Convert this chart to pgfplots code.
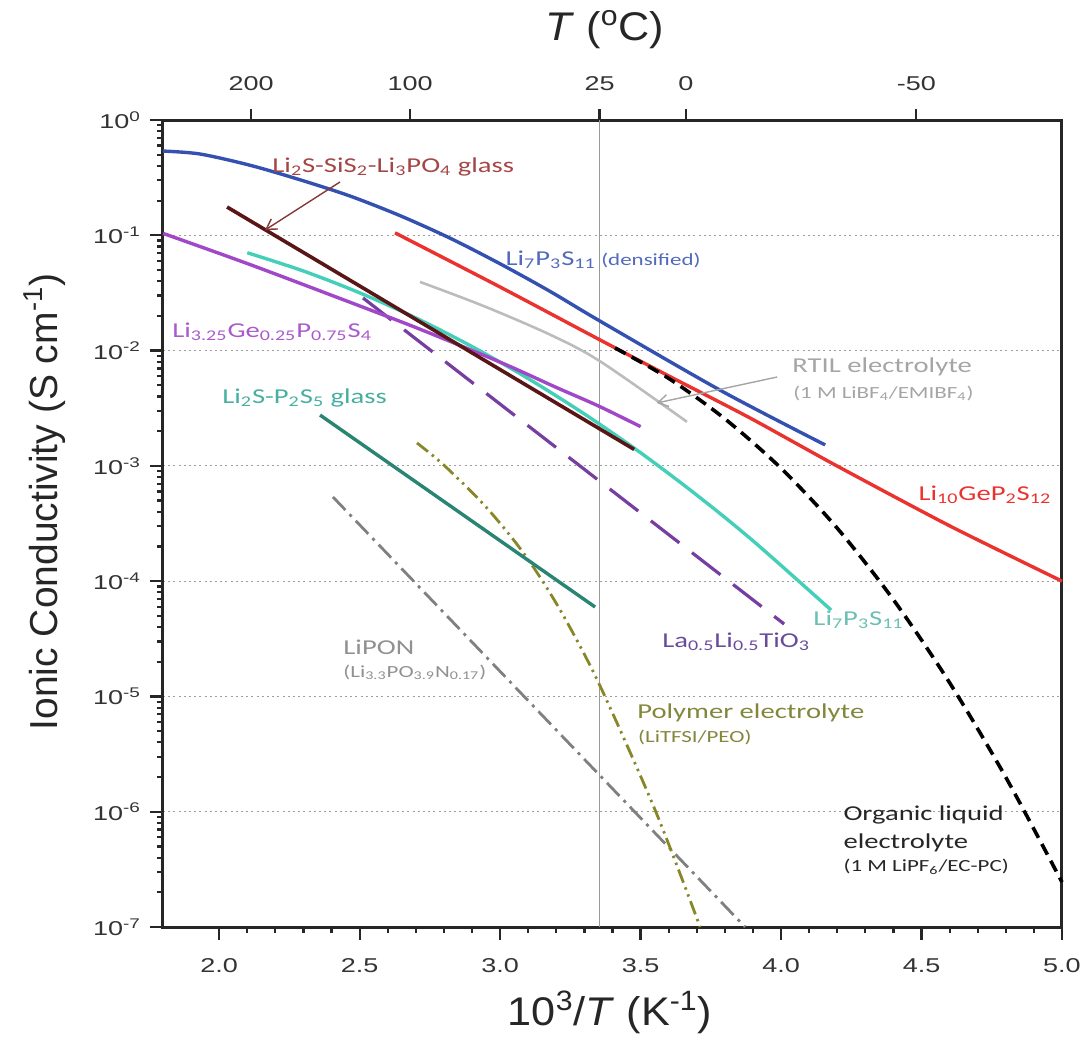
\documentclass[border=0pt]{standalone}
\usepackage{fontspec}
\setmainfont{Liberation Sans}
\newfontfamily\tickfont{Liberation Sans}[FakeStretch=1.35]
\newfontfamily\labfont{Liberation Sans}[FakeStretch=1.08]
\newfontfamily\annfont{Carlito}[FakeStretch=1.35]
\usepackage{pgfplots}
\pgfplotsset{compat=1.18}
\usetikzlibrary{arrows.meta}

\definecolor{cblue}{RGB}{52,80,176}
\definecolor{cred}{RGB}{234,50,46}
\definecolor{cbrown}{RGB}{90,22,22}
\definecolor{cbrownlab}{RGB}{165,70,70}
\definecolor{cmag}{RGB}{160,72,200}
\definecolor{cmaglab}{RGB}{170,90,205}
\definecolor{cteal}{RGB}{68,208,184}
\definecolor{ctealdark}{RGB}{42,132,116}
\definecolor{ctealab}{RGB}{70,175,160}
\definecolor{cviolet}{RGB}{118,62,160}
\definecolor{cvioletlab}{RGB}{105,75,155}
\definecolor{crtil}{RGB}{188,188,188}
\definecolor{crtillab}{RGB}{165,165,165}
\definecolor{colive}{RGB}{135,135,40}
\definecolor{colivelab}{RGB}{130,135,60}
\definecolor{clipon}{RGB}{128,128,128}
\definecolor{cliponlab}{RGB}{145,145,145}

\newcommand{\ann}[1]{{\annfont\fontsize{10.6}{13}\selectfont #1}}
\newcommand{\annsm}[1]{{\annfont\fontsize{8.5}{10}\selectfont #1}}

\begin{document}
\begin{tikzpicture}
\useasboundingbox (-81.5pt,-57pt) rectangle (463pt,463.5pt);

% temperature scale on top: 1000/(T+273.15)
\begin{axis}[
  at={(0,0)}, anchor=south west,
  scale only axis, width=449.5pt, height=403.5pt,
  xmin=1.8, xmax=5, ymin=0, ymax=1,
  hide y axis,
  axis line style={draw=none},
  xtick pos=top, xticklabel pos=top,
  xtick={2.1135,2.6799,3.3540,3.6610,4.4813},
  xticklabels={200,100,25,0,-50},
  tick align=outside, major tick length=5.5pt,
  tick style={black!85, line width=1.1pt},
  ticklabel style={font=\tickfont\fontsize{10}{11}\selectfont, text=black!80},
  xticklabel style={yshift=5.5pt},
]
\end{axis}

\begin{axis}[
  at={(0,0)}, anchor=south west,
  scale only axis, width=449.5pt, height=403.5pt,
  xmin=1.8, xmax=5,
  ymode=log, log basis y=10, ymin=1e-7, ymax=1,
  xtick={2,2.5,3,3.5,4,4.5,5},
  xticklabels={2.0,2.5,3.0,3.5,4.0,4.5,5.0},
  minor x tick num=4,
  ytick={1e-7,1e-6,1e-5,1e-4,1e-3,1e-2,1e-1,1},
  yticklabels={10\textsuperscript{-7},10\textsuperscript{-6},10\textsuperscript{-5},10\textsuperscript{-4},10\textsuperscript{-3},10\textsuperscript{-2},10\textsuperscript{-1},10\textsuperscript{0}},
  minor ytick={2e-7,3e-7,4e-7,5e-7,6e-7,7e-7,8e-7,9e-7,
               2e-6,3e-6,4e-6,5e-6,6e-6,7e-6,8e-6,9e-6,
               2e-5,3e-5,4e-5,5e-5,6e-5,7e-5,8e-5,9e-5,
               2e-4,3e-4,4e-4,5e-4,6e-4,7e-4,8e-4,9e-4,
               0.002,0.003,0.004,0.005,0.006,0.007,0.008,0.009,
               0.02,0.03,0.04,0.05,0.06,0.07,0.08,0.09,
               0.2,0.3,0.4,0.5,0.6,0.7,0.8,0.9},
  xtick pos=bottom, ytick pos=left,
  tick align=outside, major tick length=6.5pt, minor tick length=3pt,
  tick style={black!85, line width=1.1pt},
  ymajorgrids,
  major grid style={gray!75, line width=0.55pt, dash pattern=on 1pt off 1.6pt},
  axis line style={black!85, line width=1.5pt},
  ticklabel style={font=\tickfont\fontsize{10}{11}\selectfont, text=black!80},
  xticklabel style={yshift=-6pt},
  yticklabel style={xshift=-1pt},
  clip=false,
]

% room temperature (25 C)
\addplot[gray!80, line width=0.6pt] coordinates {(3.354,1e-7) (3.354,1)};

% LiPON
\addplot[clipon, line width=1.4pt, dash pattern=on 9pt off 3pt on 1.5pt off 3pt]
  coordinates {(2.405,5.37e-4) (3.872,1e-7)};

% polymer electrolyte LiTFSI/PEO
\addplot[colive, line width=1.4pt, smooth, tension=0.5,
  dash pattern=on 7pt off 2.5pt on 1.2pt off 2.5pt on 1.2pt off 2.5pt]
  coordinates {(2.704,1.58e-3) (2.797,1.03e-3) (2.939,4.70e-4) (3.060,2.09e-4)
               (3.149,1.02e-4) (3.238,4.42e-5) (3.356,1.23e-5) (3.552,1.03e-6) (3.712,1e-7)};

% Li2S-P2S5 glass
\addplot[ctealdark, line width=1.7pt]
  coordinates {(2.359,2.76e-3) (3.338,5.97e-5)};

% La0.5Li0.5TiO3
\addplot[cviolet, line width=1.6pt, dash pattern=on 18pt off 8pt]
  coordinates {(2.512,0.0286) (4.011,4.25e-5)};

% RTIL electrolyte
\addplot[crtil, line width=1.3pt, smooth, tension=0.5]
  coordinates {(2.715,0.0394) (2.939,0.02449) (3.178,0.01374) (3.356,8.07e-3) (3.665,2.41e-3)};

% Li7P3S11
\addplot[cteal, line width=1.7pt, smooth, tension=0.5]
  coordinates {(2.10,0.0706) (2.3,0.0490) (2.5,0.0317) (2.7,0.0192) (2.9,0.01084)
               (3.1,5.72e-3) (3.3,2.82e-3) (3.5,1.30e-3) (3.7,5.58e-4) (3.9,2.24e-4) (4.178,5.62e-5)};

% Li3.25Ge0.25P0.75S4
\addplot[cmag, line width=1.7pt, smooth, tension=0.5]
  coordinates {(1.8,0.104) (2.1,0.0569) (2.4,0.0302) (2.7,0.01585) (3.0,7.94e-3)
               (3.2,4.79e-3) (3.35,3.31e-3) (3.5,2.19e-3)};

% Li2S-SiS2-Li3PO4 glass
\addplot[cbrown, line width=1.8pt]
  coordinates {(2.028,0.176) (3.477,1.39e-3)};

% Li10GeP2S12
\addplot[cred, line width=1.7pt, smooth, tension=0.4]
  coordinates {(2.626,0.105) (3.000,0.0356) (3.356,0.01236) (3.6,6.03e-3) (3.89,2.60e-3)
               (4.192,1.02e-3) (4.6,3.02e-4) (5.0,1.0e-4)};

% Li7P3S11 (densified)
\addplot[cblue, line width=1.7pt, smooth, tension=0.5]
  coordinates {(1.8,0.538) (1.932,0.507) (2.110,0.405) (2.288,0.303) (2.466,0.219)
               (2.644,0.148) (2.822,0.0944) (3.000,0.0566) (3.178,0.0326) (3.356,0.0180)
               (3.790,4.44e-3) (4.157,1.52e-3)};

% organic liquid electrolyte 1 M LiPF6/EC-PC
\addplot[black, line width=1.8pt, smooth, tension=0.5, dash pattern=on 6pt off 3.5pt]
  coordinates {(3.409,0.01054) (3.6,5.74e-3) (3.8,2.56e-3) (4.0,9.53e-4) (4.2,2.88e-4)
               (4.4,6.90e-5) (4.6,1.315e-5) (4.8,1.99e-6) (5.0,2.45e-7)};

% annotations
\draw[-{Straight Barb[length=5pt,width=6pt]}, cbrownlab!80!black, line width=0.7pt]
  (axis cs:2.430,0.290) -- (axis cs:2.163,0.111);
\draw[-{Straight Barb[length=5pt,width=6pt]}, crtillab, line width=0.7pt]
  (axis cs:3.986,5.9e-3) -- (axis cs:3.557,3.51e-3);

\node[anchor=west, inner sep=0, text=cbrownlab] at (axis cs:2.188,0.391)
  {\ann{Li\textsubscript{2}S-SiS\textsubscript{2}-Li\textsubscript{3}PO\textsubscript{4} glass}};
\node[anchor=west, inner sep=0, text=cblue!85!white] at (axis cs:3.018,0.0611)
  {\ann{Li\textsubscript{7}P\textsubscript{3}S\textsubscript{11}} \annsm{(densified)}};
\node[anchor=west, inner sep=0, text=cmaglab] at (axis cs:1.832,0.0145)
  {\ann{Li\textsubscript{3.25}Ge\textsubscript{0.25}P\textsubscript{0.75}S\textsubscript{4}}};
\node[anchor=west, inner sep=0, text=ctealab] at (axis cs:2.010,3.88e-3)
  {\ann{Li\textsubscript{2}S-P\textsubscript{2}S\textsubscript{5} glass}};
\node[anchor=west, inner sep=0, text=crtillab] at (axis cs:4.039,7.21e-3)
  {\ann{RTIL electrolyte}};
\node[anchor=west, inner sep=0, text=crtillab] at (axis cs:4.042,4.29e-3)
  {\annsm{(1 M LiBF\textsubscript{4}/EMIBF\textsubscript{4})}};
\node[anchor=west, inner sep=0, text=cred] at (axis cs:4.488,5.6e-4)
  {\ann{Li\textsubscript{10}GeP\textsubscript{2}S\textsubscript{12}}};
\node[anchor=west, inner sep=0, text=ctealab!80!white] at (axis cs:4.114,4.6e-5)
  {\ann{Li\textsubscript{7}P\textsubscript{3}S\textsubscript{11}}};
\node[anchor=west, inner sep=0, text=cvioletlab] at (axis cs:3.576,2.97e-5)
  {\ann{La\textsubscript{0.5}Li\textsubscript{0.5}TiO\textsubscript{3}}};
\node[anchor=west, inner sep=0, text=cliponlab] at (axis cs:2.441,2.69e-5)
  {\ann{LiPON}};
\node[anchor=west, inner sep=0, text=cliponlab] at (axis cs:2.441,1.63e-5)
  {\annsm{(Li\textsubscript{3.3}PO\textsubscript{3.9}N\textsubscript{0.17})}};
\node[anchor=west, inner sep=0, text=colivelab] at (axis cs:3.487,7.2e-6)
  {\ann{Polymer electrolyte}};
\node[anchor=west, inner sep=0, text=colivelab] at (axis cs:3.490,4.37e-6)
  {\annsm{(LiTFSI/PEO)}};
\node[anchor=west, inner sep=0, text=black!85] at (axis cs:4.221,9.4e-7)
  {\ann{Organic liquid}};
\node[anchor=west, inner sep=0, text=black!85] at (axis cs:4.221,5.36e-7)
  {\ann{electrolyte}};
\node[anchor=west, inner sep=0, text=black!85] at (axis cs:4.221,3.32e-7)
  {\annsm{(1 M LiPF\textsubscript{6}/EC-PC)}};
\end{axis}

% axis titles
\node[text=black!85, font=\labfont\fontsize{20}{24}\selectfont] at (223.5pt,-42.5pt)
  {10\textsuperscript{3}/\textit{T} (K\textsuperscript{-1})};
\node[text=black!85, font=\labfont\fontsize{20}{24}\selectfont] at (221pt,448.5pt)
  {\textit{T} (\textsuperscript{o}C)};
\node[rotate=90, text=black!85, font=\fontsize{19.5}{23}\selectfont] at (-59pt,212.5pt)
  {Ionic Conductivity (S cm\textsuperscript{-1})};
\end{tikzpicture}
\end{document}
